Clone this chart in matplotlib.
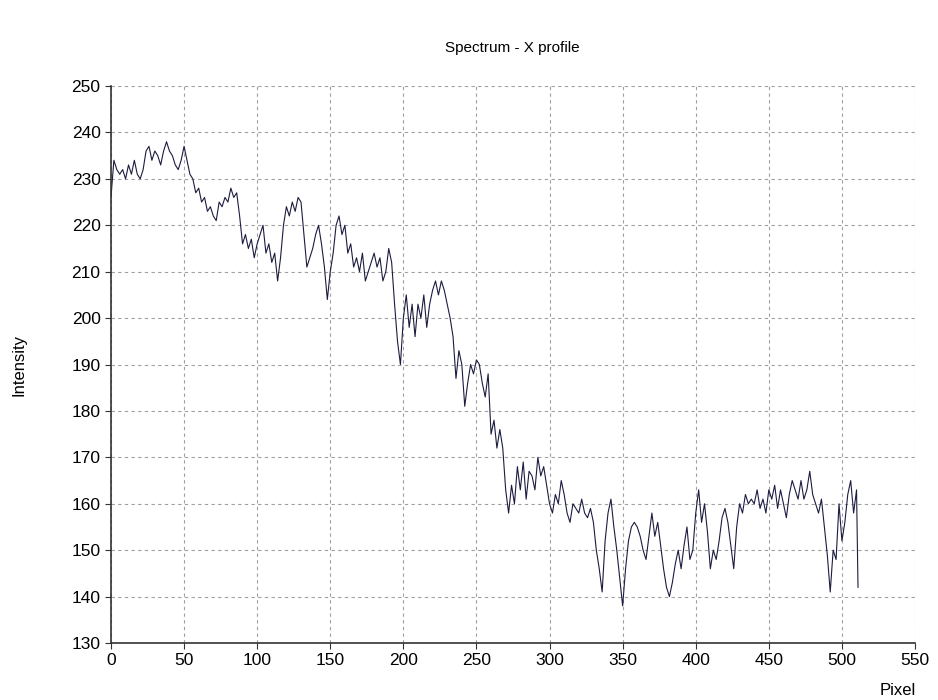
import numpy as np
import matplotlib.pyplot as plt

plt.rcParams['font.family'] = ['Liberation Sans', 'DejaVu Sans']

# pixel positions (every second pixel) and intensity
pixel = list(range(0, 512, 2)) + [511]
intensity = [
    226, 234, 232, 231, 232, 230, 233, 231, 234, 231,
    230, 232, 236, 237, 234, 236, 235, 233, 236, 238,
    236, 235, 233, 232, 234, 237, 234, 231, 230, 227,
    228, 225, 226, 223, 224, 222, 221, 225, 224, 226,
    225, 228, 226, 227, 222, 216, 218, 215, 217, 213,
    216, 218, 220, 214, 216, 212, 214, 208, 213, 220,
    224, 222, 225, 223, 226, 225, 218, 211, 213, 215,
    218, 220, 216, 211, 204, 210, 214, 220, 222, 218,
    220, 214, 216, 211, 213, 210, 214, 208, 210, 212,
    214, 211, 213, 208, 210, 215, 212, 203, 195, 190,
    200, 205, 198, 203, 196, 203, 200, 205, 198, 203,
    206, 208, 205, 208, 206, 203, 200, 196, 187, 193,
    190, 181, 186, 190, 188, 191, 190, 186, 183, 188,
    175, 178, 172, 176, 172, 163, 158, 164, 160, 168,
    163, 169, 161, 167, 166, 163, 170, 166, 168, 164,
    160, 158, 162, 160, 165, 162, 158, 156, 160, 159,
    158, 161, 158, 157, 159, 156, 150, 146, 141, 152,
    158, 161, 155, 150, 144, 138, 146, 152, 155, 156,
    155, 153, 150, 148, 153, 158, 153, 156, 151, 146,
    142, 140, 143, 147, 150, 146, 151, 155, 148, 150,
    158, 163, 156, 160, 154, 146, 150, 148, 152, 157,
    159, 156, 151, 146, 155, 160, 158, 162, 160, 161,
    160, 163, 159, 161, 158, 163, 161, 164, 159, 163,
    160, 157, 162, 165, 163, 161, 165, 161, 163, 167,
    162, 160, 158, 161, 155, 149, 141, 150, 148, 160,
    152, 156, 162, 165, 158, 163, 142,
]

x_ticks = np.arange(0, 551, 50)
y_ticks = np.arange(130, 251, 10)

fig = plt.figure(figsize=(9.38, 7), dpi=100)
ax = fig.add_axes([0.1183, 0.0814, 0.8572, 0.7957])

ax.plot(pixel, intensity, color='#1c1c40', linewidth=0.8)

ax.set_xlim(0, 550)
ax.set_ylim(130, 250)
ax.set_xticks(x_ticks)
ax.set_yticks(y_ticks)
ax.grid(True, linestyle=(0, (3, 3)), color='#a0a0a0', linewidth=0.8)
ax.tick_params(labelsize=12.5, length=4, direction='out', color='#333333')
for s in ['top', 'right']:
    ax.spines[s].set_visible(False)
for s in ['left', 'bottom']:
    ax.spines[s].set_color('#333333')
    ax.spines[s].set_linewidth(1.2)

fig.text(0.546, 0.931, 'Spectrum - X profile', ha='center', va='center', fontsize=11)
fig.text(0.957, 0.014, 'Pixel', ha='center', va='center', fontsize=12)
fig.text(0.02, 0.478, 'Intensity', ha='center', va='center', rotation=90, fontsize=12)

fig.savefig('out.png', dpi=100)
